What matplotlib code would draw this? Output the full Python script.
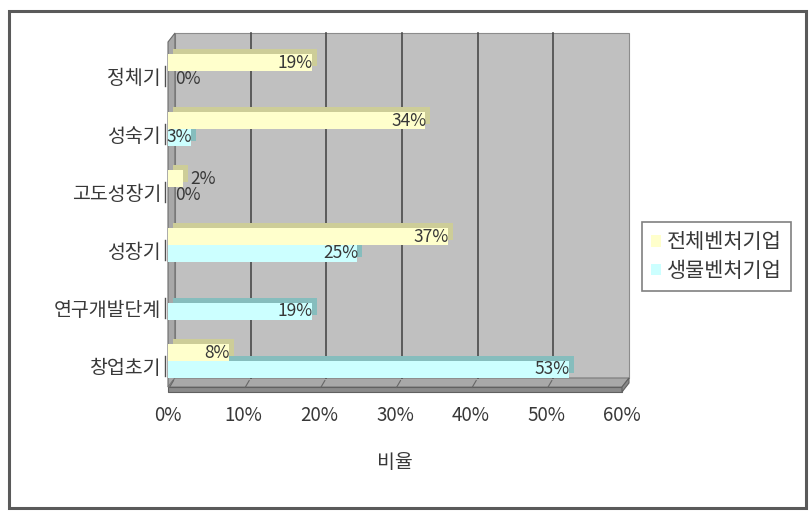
import matplotlib
matplotlib.use("Agg")
import matplotlib.pyplot as plt
import numpy as np
from matplotlib.patches import Rectangle, Polygon, Patch
from matplotlib.transforms import ScaledTranslation

plt.rcParams['font.family'] = ['Noto Sans CJK KR', 'DejaVu Sans']

# ---------------- data ----------------
categories = ['정체기', '성숙기', '고도성장기', '성장기', '연구개발단계', '창업초기']
series_names = ['전체벤처기업', '생물벤처기업']
total_values = [19, 34, 2, 37, np.nan, 8]
bio_values = [0, 3, 0, 25, 19, 53]
x_ticks = [0, 10, 20, 30, 40, 50, 60]
x_tick_labels = ['0%', '10%', '20%', '30%', '40%', '50%', '60%']
x_label = '비율'

# ---------------- layout ----------------
W, H, DPI = 811, 517, 100
L, R, T, B = 168, 622, 42, 387      # front plane (pixels)
DX, DY = 7, 9                        # 3D depth offset (pixels)
ROW = 58.0                           # pixels per category
FIRST = 71                           # pixel y of first category centre
TXT = '#383838'
YEL, YEL_D = '#FFFFCC', '#CDCD98'
CYA, CYA_D = '#CCFFFF', '#86BDBD'
WALL, SIDE, FLOOR, FLOOR_F = '#C0C0C0', '#A8A8A8', '#A8A8A8', '#8A8A8A'

fig = plt.figure(figsize=(W / DPI, H / DPI), dpi=DPI)
fig.patch.set_facecolor('white')

# background decoration axes (pixel coordinates)
bg = fig.add_axes([0, 0, 1, 1], zorder=-1)
bg.set_xlim(0, W)
bg.set_ylim(H, 0)
bg.axis('off')
bg.add_patch(Rectangle((9, 11), 797, 497, fill=False, edgecolor='#5a5a5a', lw=2.2))
# back wall
bg.add_patch(Polygon([(L + DX, T - DY), (R + DX, T - DY), (R + DX, B - DY), (L + DX, B - DY)],
                     closed=True, facecolor=WALL, edgecolor='#8c8c8c', lw=0.8))
# left wall
bg.add_patch(Polygon([(L, T), (L + DX, T - DY), (L + DX, B - DY), (L, B)],
                     closed=True, facecolor=SIDE, edgecolor='#6a6a6a', lw=0.8))
# floor top
bg.add_patch(Polygon([(L, B), (L + DX, B - DY), (R + DX, B - DY), (R, B)],
                     closed=True, facecolor=FLOOR, edgecolor='#7a7a7a', lw=0.8))
# floor thickness
bg.add_patch(Polygon([(L, B), (R, B), (R, B + 5), (L, B + 5)],
                     closed=True, facecolor=FLOOR_F, edgecolor='#606060', lw=0.8))
bg.add_patch(Polygon([(R, B), (R + DX, B - DY), (R + DX, B - DY + 5), (R, B + 5)],
                     closed=True, facecolor=FLOOR_F, edgecolor='#606060', lw=0.8))

# main axes = front plane
ax = fig.add_axes([L / W, 1 - B / H, (R - L) / W, (B - T) / H])
ax.patch.set_alpha(0)
ax.set_xlim(x_ticks[0], x_ticks[-1])
ax.set_ylim((B - FIRST) / ROW, (T - FIRST) / ROW)
for s in ax.spines.values():
    s.set_visible(False)

back = ax.transData + ScaledTranslation(DX / DPI, DY / DPI, fig.dpi_scale_trans)
y0, y1 = ax.get_ylim()
for v in x_ticks[1:-1]:
    ax.plot([v, v], [y0, y1], color='#4a4a4a', lw=1.2, transform=back, zorder=1, clip_on=False)
floor_t = ax.transData + ScaledTranslation(0, -3 / DPI, fig.dpi_scale_trans)
for v in x_ticks[:-1]:
    ax.annotate('', xy=(v, y0), xycoords=floor_t,
                xytext=(DX, DY + 3), textcoords='offset pixels',
                arrowprops=dict(arrowstyle='-', color='#666666', lw=0.8), zorder=1)

# bars
y = np.arange(len(categories))
h = 17 / ROW
shade = ax.transData + ScaledTranslation(5 / DPI, 5 / DPI, fig.dpi_scale_trans)
tv = np.array(total_values, dtype=float)
bv = np.array(bio_values, dtype=float)
ax.barh(y - h / 2, np.nan_to_num(tv), height=h, color=YEL_D, transform=shade, zorder=2,
        edgecolor='none')
ax.barh(y + h / 2, bv, height=h, color=CYA_D, transform=shade, zorder=2, edgecolor='none')
ax.barh(y - h / 2, np.nan_to_num(tv), height=h, color=YEL, zorder=3, edgecolor='none')
ax.barh(y + h / 2, bv, height=h, color=CYA, zorder=3, edgecolor='none')

def label(v, yy):
    if np.isnan(v):
        return
    if v < 3:
        ax.annotate(f'{int(v)}%', xy=(v, yy), xytext=(7, 0), textcoords='offset pixels',
                    ha='left', va='center', fontsize=12.5, color=TXT, zorder=4)
    else:
        ax.annotate(f'{int(v)}%', xy=(v, yy), xytext=(1, 0), textcoords='offset pixels',
                    ha='right', va='center', fontsize=12.5, color=TXT, zorder=4)

for i in range(len(categories)):
    label(tv[i], y[i] - h / 2)
    label(bv[i], y[i] + h / 2)

# left wall tick marks
mark = ax.transData + ScaledTranslation(-3 / DPI, -5 / DPI, fig.dpi_scale_trans)
for i in y:
    ax.plot([0, 0], [i - 0.17, i + 0.17], color='#505050', lw=1.0, transform=mark,
            clip_on=False, zorder=4)

# ticks
ax.set_xticks(x_ticks)
ax.set_xticklabels(x_tick_labels, fontsize=13.5, color=TXT)
ax.set_yticks(y)
ax.set_yticklabels(categories, fontsize=14, color=TXT)
ax.tick_params(axis='both', length=0)
ax.tick_params(axis='x', pad=13)
ax.tick_params(axis='y', pad=5)
for lab in ax.get_yticklabels():
    lab.set_transform(lab.get_transform() + ScaledTranslation(0, -5 / DPI, fig.dpi_scale_trans))
ax.set_xlabel(x_label, fontsize=14, color=TXT, labelpad=19)

# legend
handles = [Patch(facecolor=YEL, edgecolor='none'), Patch(facecolor=CYA, edgecolor='none')]
leg = fig.legend(handles, series_names, loc='upper left',
                 bbox_to_anchor=(642 / W, 1 - 222 / H), fontsize=15,
                 handlelength=0.45, handleheight=0.45, handletextpad=0.3,
                 borderpad=0.45, labelspacing=0.3, fancybox=False,
                 edgecolor='#808080', framealpha=1, borderaxespad=0)
for t in leg.get_texts():
    t.set_color(TXT)
leg.get_frame().set_linewidth(1.2)

fig.savefig('out.png', dpi=DPI)
